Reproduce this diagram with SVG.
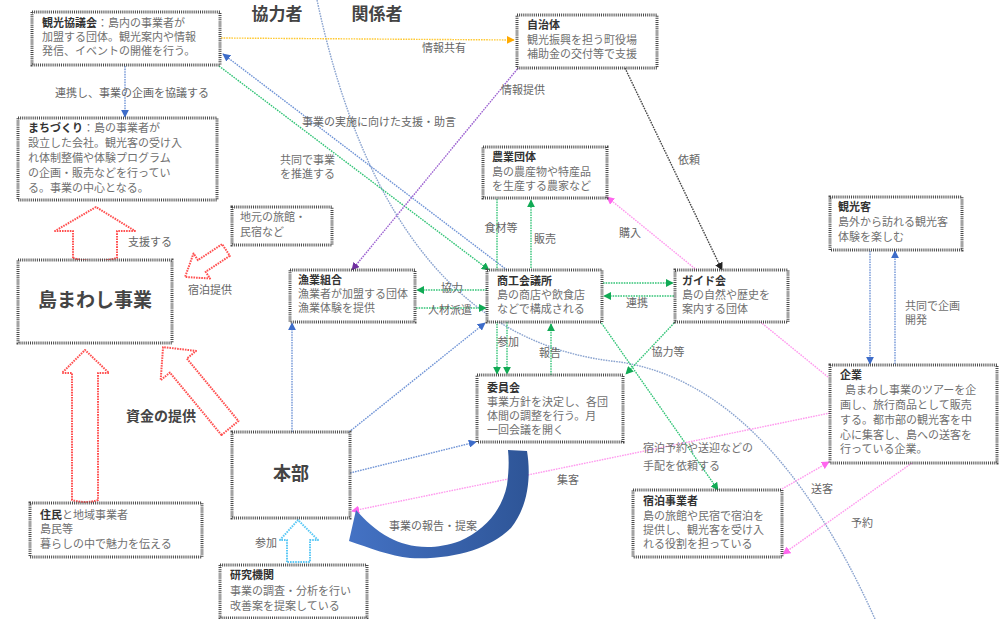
<svg xmlns="http://www.w3.org/2000/svg" width="1000" height="619" viewBox="0 0 1000 619">
<style>
.box{fill:#fff;stroke:#4a4a4a;stroke-width:3;stroke-dasharray:1 1.1}
.t{font-family:"Noto Sans CJK JP","Noto Sans",sans-serif;font-size:11px;fill:#707070}
.tt{font-weight:bold;fill:#333}
.lb{font-family:"Noto Sans CJK JP","Noto Sans",sans-serif;font-size:11px;fill:#666;text-anchor:middle}
.big{font-family:"Noto Sans CJK JP","Noto Sans",sans-serif;font-weight:bold;fill:#444;text-anchor:middle}
.c{fill:none;stroke-width:1.4;stroke-dasharray:1.6 1}
.blue{stroke:#7094d6}
.green{stroke:#33c477}
.pink{stroke:#ff99ee}
.ba{fill:none;stroke-width:2;stroke-dasharray:1.6 1;stroke-linejoin:round}
</style>
<defs>
<marker id="mb" viewBox="0 0 10 10" refX="9" refY="5" markerWidth="8" markerHeight="8" markerUnits="userSpaceOnUse" orient="auto"><path d="M0,0 L10,5 L0,10 Z" fill="#3d6cc9"/></marker>
<marker id="mg" viewBox="0 0 10 10" refX="9" refY="5" markerWidth="8" markerHeight="8" markerUnits="userSpaceOnUse" orient="auto"><path d="M0,0 L10,5 L0,10 Z" fill="#11aa55"/></marker>
<marker id="my" viewBox="0 0 10 10" refX="9" refY="5" markerWidth="8" markerHeight="8" markerUnits="userSpaceOnUse" orient="auto"><path d="M0,0 L10,5 L0,10 Z" fill="#ffaa00"/></marker>
<marker id="mp" viewBox="0 0 10 10" refX="9" refY="5" markerWidth="8" markerHeight="8" markerUnits="userSpaceOnUse" orient="auto"><path d="M0,0 L10,5 L0,10 Z" fill="#7030a0"/></marker>
<marker id="mk" viewBox="0 0 10 10" refX="9" refY="5" markerWidth="8" markerHeight="8" markerUnits="userSpaceOnUse" orient="auto"><path d="M0,0 L10,5 L0,10 Z" fill="#222"/></marker>
<marker id="mpk" viewBox="0 0 10 10" refX="9" refY="5" markerWidth="8" markerHeight="8" markerUnits="userSpaceOnUse" orient="auto"><path d="M0,0 L10,5 L0,10 Z" fill="#ff66ee"/></marker>
<linearGradient id="gb" x1="0" y1="0" x2="1" y2="0"><stop offset="0" stop-color="#4472c4"/><stop offset="1" stop-color="#2e5597"/></linearGradient>
</defs>

<g id="connectors">
<path class="c" stroke="#8aa3cf" d="M317,0 Q390,340 620,362 Q770,385 875,619"/>
<path class="c" stroke="#ffc933" d="M221,38 L514,40" marker-end="url(#my)"/>
<path class="c blue" d="M125,66 L125,117" marker-end="url(#mb)"/>
<path class="c blue" d="M507,270 L223,54" marker-end="url(#mb)"/>
<path class="c green" d="M219,66 L489,270" marker-end="url(#mg)"/>
<path class="c" stroke="#9a5fd0" d="M519,67 L352,270" marker-end="url(#mp)"/>
<path class="c" stroke="#444" d="M625,68 L722,270" marker-end="url(#mk)"/>
<path class="c pink" d="M828,377 L607,197" marker-end="url(#mpk)"/>
<path class="c green" d="M497,199 L497,374" marker-end="url(#mg)"/>
<path class="c green" d="M507,322 L507,374" marker-end="url(#mg)"/>
<path class="c green" d="M531,268 L531,200" marker-end="url(#mg)"/>
<path class="c green" d="M551,375 L551,324" marker-end="url(#mg)"/>
<path class="c green" d="M603,283 L673,283" marker-end="url(#mg)"/>
<path class="c green" d="M674,296 L604,296" marker-end="url(#mg)"/>
<path class="c green" d="M487,290 L417,290" marker-end="url(#mg)"/>
<path class="c green" d="M416,308 L486,308" marker-end="url(#mg)"/>
<path class="c green" d="M600,321 L718,490" marker-end="url(#mg)"/>
<path class="c green" d="M676,321 L626,374" marker-end="url(#mg)"/>
<path class="c blue" d="M292,432 L292,323" marker-end="url(#mb)"/>
<path class="c blue" d="M349,432 L485,323" marker-end="url(#mb)"/>
<path class="c blue" d="M350,473 L476,442" marker-end="url(#mb)"/>
<path class="c pink" d="M830,413 L352,511" marker-end="url(#mpk)"/>
<path class="c pink" d="M782,489 L829,462" marker-end="url(#mpk)"/>
<path class="c pink" d="M912,463 L783,554" marker-end="url(#mpk)"/>
<path class="c blue" d="M870,251 L870,364" marker-end="url(#mb)"/>
<path class="c blue" d="M895,364 L895,251" marker-end="url(#mb)"/>
<path class="ba" stroke="#ff5050" d="M73,258 V231 H55 L96,207 L135,231 H117 V258 Q95,264 73,258 Z"/>
<path class="ba" stroke="#ff5050" transform="translate(226,250) rotate(146.6)" d="M0,-7 L29,-7 L29,-15 L49,0 L29,15 L29,7 L0,7 Z"/>
<path class="ba" stroke="#ff5050" transform="translate(230,428) rotate(230.4)" d="M0,-11 L81,-11 L81,-23 L105,0 L81,23 L81,11 L0,11 Z"/>
<path class="ba" stroke="#ff5050" d="M72,500 V373 H62 L85,350 L109,373 H98 V500 Q85,504 72,500 Z"/>
<path class="ba" stroke="#5bc8f5" d="M287,562 V540 H280 L298,520 L318,540 H310 V562 Z"/>
<path fill="url(#gb)" d="M508,450 L527,451 C531,475 529,505 511,528 C490,548 455,560 410,558 C390,556 370,548 349,541 L356,510 C365,520 375,530 390,538 C405,546 430,552 460,541 C485,530 502,510 507,485 C509,470 509,460 508,450 Z"/>
</g>

<g id="labels">
<text class="big" x="277" y="20" font-size="17">協力者</text>
<text class="big" x="377" y="20" font-size="17">関係者</text>
<text class="lb" x="444" y="52">情報共有</text>
<text class="lb" x="132" y="97">連携し、事業の企画を協議する</text>
<text class="lb" x="523" y="94" fill="#999">情報提供</text>
<text class="lb" x="379" y="126">事業の実施に向けた支援・助言</text>
<text class="t" x="280" y="164">共同で事業</text>
<text class="t" x="280" y="178">を推進する</text>
<text class="lb" x="689" y="164">依頼</text>
<text class="lb" x="630" y="237">購入</text>
<text class="lb" x="501" y="232">食材等</text>
<text class="lb" x="545" y="243">販売</text>
<text class="lb" x="452" y="292">協力</text>
<text class="lb" x="450" y="314">人材派遣</text>
<text class="lb" x="508" y="346">参加</text>
<text class="lb" x="550" y="357">報告</text>
<text class="lb" x="637" y="307">連携</text>
<text class="lb" x="668" y="356">協力等</text>
<text class="t" x="905" y="310">共同で企画</text>
<text class="t" x="905" y="324">開発</text>
<text class="t" x="643" y="452">宿泊予約や送迎などの</text>
<text class="t" x="643" y="470">手配を依頼する</text>
<text class="lb" x="568" y="484">集客</text>
<text class="lb" x="822" y="493">送客</text>
<text class="lb" x="862" y="527">予約</text>
<text class="lb" x="433" y="530">事業の報告・提案</text>
<text class="lb" x="266" y="547">参加</text>
<text class="lb" x="150" y="246">支援する</text>
<text class="lb" x="210" y="294">宿泊提供</text>
<text class="big" x="161" y="421" font-size="14">資金の提供</text>
</g>

<g id="nodeA"><rect class="box" x="32" y="12" width="188" height="53"/>
<text class="t" x="42" y="27"><tspan class="tt">観光協議会</tspan>：島内の事業者が</text>
<text class="t" x="42" y="41">加盟する団体。観光案内や情報</text>
<text class="t" x="42" y="55">発信、イベントの開催を行う。</text></g>

<g id="nodeB"><rect class="box" x="18" y="118" width="199" height="82"/>
<text class="t" x="28" y="132"><tspan class="tt">まちづくり</tspan>：島の事業者が</text>
<text class="t" x="28" y="147">設立した会社。観光客の受け入</text>
<text class="t" x="28" y="162">れ体制整備や体験プログラム</text>
<text class="t" x="28" y="177">の企画・販売などを行ってい</text>
<text class="t" x="28" y="192">る。事業の中心となる。</text></g>

<g id="nodeC"><rect class="box" x="18" y="260" width="154" height="83"/>
<text class="big" x="95" y="307" font-size="19">島まわし事業</text></g>

<g id="nodeD"><rect class="box" x="232" y="207" width="100" height="38"/>
<text class="t" x="240" y="221">地元の旅館・</text>
<text class="t" x="240" y="236">民宿など</text></g>

<g id="nodeE"><rect class="box" x="290" y="270" width="125" height="52"/>
<text class="t tt" x="298" y="284">漁業組合</text>
<text class="t" x="298" y="298">漁業者が加盟する団体</text>
<text class="t" x="298" y="312">漁業体験を提供</text></g>

<g id="nodeF"><rect class="box" x="487" y="270" width="115" height="52"/>
<text class="t tt" x="497" y="285">商工会議所</text>
<text class="t" x="497" y="299">島の商店や飲食店</text>
<text class="t" x="497" y="313">などで構成される</text></g>

<g id="nodeG"><rect class="box" x="675" y="270" width="113" height="52"/>
<text class="t tt" x="682" y="285">ガイド会</text>
<text class="t" x="682" y="299">島の自然や歴史を</text>
<text class="t" x="682" y="313">案内する団体</text></g>

<g id="nodeH"><rect class="box" x="517" y="15" width="140" height="53"/>
<text class="t tt" x="527" y="29">自治体</text>
<text class="t" x="527" y="44">観光振興を担う町役場</text>
<text class="t" x="527" y="58">補助金の交付等で支援</text></g>

<g id="nodeI"><rect class="box" x="483" y="147" width="124" height="51"/>
<text class="t tt" x="492" y="161">農業団体</text>
<text class="t" x="492" y="176">島の農産物や特産品</text>
<text class="t" x="492" y="190">を生産する農家など</text></g>

<g id="nodeJ"><rect class="box" x="830" y="197" width="132" height="53"/>
<text class="t tt" x="838" y="211">観光客</text>
<text class="t" x="838" y="226">島外から訪れる観光客</text>
<text class="t" x="838" y="241">体験を楽しむ</text></g>

<g id="nodeK"><rect class="box" x="830" y="365" width="167" height="98"/>
<text class="t tt" x="840" y="379">企業</text>
<text class="t" x="845" y="394">島まわし事業のツアーを企</text>
<text class="t" x="840" y="409">画し、旅行商品として販売</text>
<text class="t" x="840" y="424">する。都市部の観光客を中</text>
<text class="t" x="840" y="439">心に集客し、島への送客を</text>
<text class="t" x="840" y="453">行っている企業。</text></g>

<g id="nodeL"><rect class="box" x="477" y="375" width="146" height="67"/>
<text class="t tt" x="487" y="392">委員会</text>
<text class="t" x="487" y="406">事業方針を決定し、各団</text>
<text class="t" x="487" y="420">体間の調整を行う。月</text>
<text class="t" x="487" y="434">一回会議を開く</text></g>

<g id="nodeM"><rect class="box" x="232" y="432" width="118" height="86"/>
<text class="big" x="291" y="480" font-size="18">本部</text></g>

<g id="nodeN"><rect class="box" x="30" y="503" width="172" height="54"/>
<text class="t" x="40" y="519"><tspan class="tt">住民</tspan>と地域事業者</text>
<text class="t" x="40" y="533">島民等</text>
<text class="t" x="40" y="548">暮らしの中で魅力を伝える</text></g>

<g id="nodeO"><rect class="box" x="220" y="565" width="147" height="53"/>
<text class="t tt" x="230" y="579">研究機関</text>
<text class="t" x="230" y="595">事業の調査・分析を行い</text>
<text class="t" x="230" y="610">改善案を提案している</text></g>

<g id="nodeP"><rect class="box" x="633" y="490" width="149" height="67"/>
<text class="t tt" x="643" y="505">宿泊事業者</text>
<text class="t" x="643" y="520">島の旅館や民宿で宿泊を</text>
<text class="t" x="643" y="534">提供し、観光客を受け入</text>
<text class="t" x="643" y="548">れる役割を担っている</text></g>
</svg>
